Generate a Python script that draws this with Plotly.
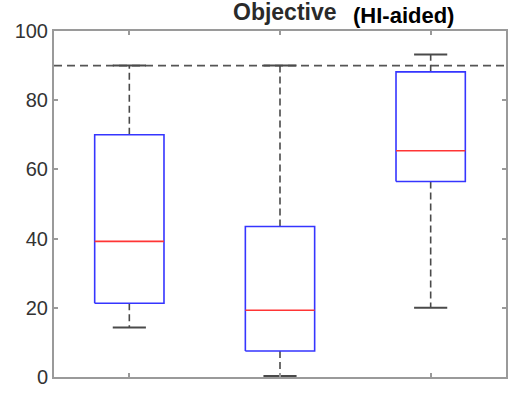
import plotly.graph_objects as go

# Box statistics for the three conditions
positions = [1, 2, 3]
lower_whisker = [14.3, 0.3, 20.0]
q1 = [21.3, 7.5, 56.5]
median = [39.2, 19.3, 65.4]
q3 = [70.0, 43.5, 88.2]
upper_whisker = [90.0, 90.0, 93.2]
reference_level = 90
y_ticks = [0, 20, 40, 60, 80, 100]

BOX_HALF = 0.23
CAP_HALF = 0.11
BOX_COLOR = "#3535ff"
MEDIAN_COLOR = "#ff3535"
WHISKER_COLOR = "#4a4a4a"
AXIS_COLOR = "#9a9a9a"

fig = go.Figure()

for x, lo, a, m, b, hi in zip(positions, lower_whisker, q1, median, q3, upper_whisker):
    # dashed whiskers
    fig.add_trace(go.Scatter(x=[x, x, None, x, x], y=[b, hi, None, a, lo], mode="lines",
                             line=dict(color=WHISKER_COLOR, width=1.6, dash="7px,4px"),
                             hoverinfo="skip", showlegend=False))
    # whisker caps
    fig.add_trace(go.Scatter(x=[x - CAP_HALF, x + CAP_HALF, None, x - CAP_HALF, x + CAP_HALF],
                             y=[hi, hi, None, lo, lo], mode="lines",
                             line=dict(color=WHISKER_COLOR, width=2),
                             hoverinfo="skip", showlegend=False))
    # box outline
    fig.add_trace(go.Scatter(x=[x - BOX_HALF, x + BOX_HALF, x + BOX_HALF, x - BOX_HALF, x - BOX_HALF],
                             y=[a, a, b, b, a], mode="lines",
                             line=dict(color=BOX_COLOR, width=1.6),
                             hoverinfo="skip", showlegend=False))
    # median
    fig.add_trace(go.Scatter(x=[x - BOX_HALF, x + BOX_HALF], y=[m, m], mode="lines",
                             line=dict(color=MEDIAN_COLOR, width=1.6),
                             hoverinfo="skip", showlegend=False))

# dashed reference line across the axes
fig.add_shape(type="line", xref="paper", x0=0, x1=1, yref="y", y0=reference_level, y1=reference_level,
              line=dict(color="#555555", width=1.6, dash="8px,5px"), layer="below")

W, H = 511, 393
ML, MR, MT, MB = 54, 3, 31, 16
pw, ph = W - ML - MR, H - MT - MB


def px_x(px):
    return (px - ML) / pw


def px_y(py):
    return 1 + (MT - py) / ph


fig.add_annotation(text="<b>Objective</b>", xref="paper", yref="paper",
                   x=px_x(340), y=px_y(27), xanchor="right", yanchor="bottom",
                   showarrow=False, font=dict(family="Liberation Sans", size=23, color="#2a2a2a"))
fig.add_annotation(text="<b>(HI-aided)</b>", xref="paper", yref="paper",
                   x=px_x(352), y=px_y(30), xanchor="left", yanchor="bottom",
                   showarrow=False, font=dict(family="Liberation Sans", size=22, color="#000000"))

fig.update_layout(
    width=W, height=H,
    margin=dict(l=ML, r=MR, t=MT, b=MB),
    paper_bgcolor="white", plot_bgcolor="white",
    font=dict(family="Liberation Sans", size=20, color="#333333"),
    xaxis=dict(range=[0.5, 3.5], tickvals=positions, showticklabels=False,
               ticks="inside", ticklen=4, tickcolor=AXIS_COLOR, tickwidth=1.5,
               showline=True, linecolor=AXIS_COLOR, linewidth=2, mirror="ticks",
               showgrid=False, zeroline=False, fixedrange=True),
    yaxis=dict(range=[0, 100], tickvals=y_ticks, ticks="inside", ticklen=4,
               tickcolor=AXIS_COLOR, tickwidth=1.5,
               showline=True, linecolor=AXIS_COLOR, linewidth=2, mirror="ticks",
               showgrid=False, zeroline=False, fixedrange=True),
)

fig.write_html("out.html")
